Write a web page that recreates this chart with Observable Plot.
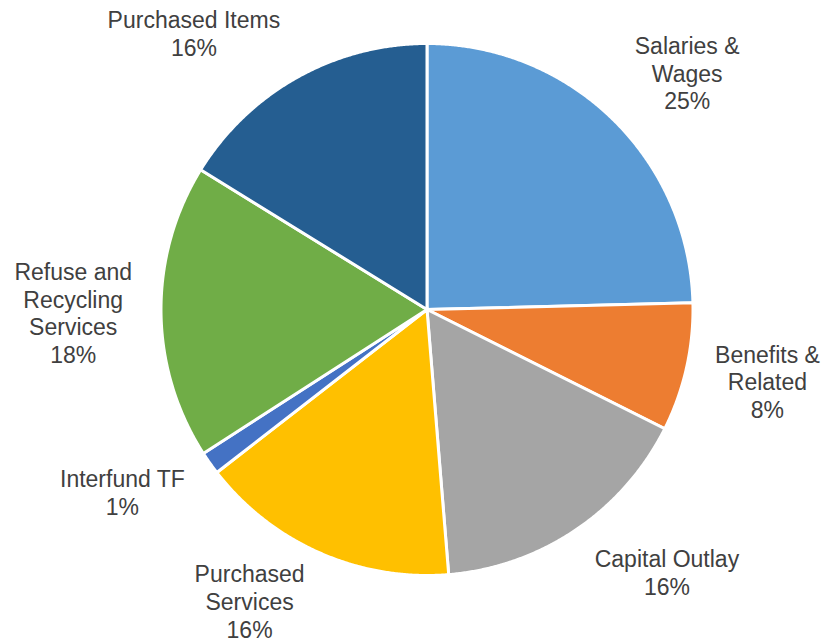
<!DOCTYPE html>
<html>
<head>
<meta charset="utf-8">
<script src="https://cdn.jsdelivr.net/npm/d3@7"></script>
<script src="https://cdn.jsdelivr.net/npm/@observablehq/plot@0.6"></script>
<style>
  html, body { margin: 0; padding: 0; background: #ffffff; }
  #chart svg { display: block; }
</style>
</head>
<body>
<div id="chart"></div>
<script>
// ---- data ----
const categories = [
  "Salaries & Wages",
  "Benefits & Related",
  "Capital Outlay",
  "Purchased Services",
  "Interfund TF",
  "Refuse and Recycling Services",
  "Purchased Items"
];
const labelText = [
  "Salaries &\nWages",
  "Benefits &\nRelated",
  "Capital Outlay",
  "Purchased\nServices",
  "Interfund TF",
  "Refuse and\nRecycling\nServices",
  "Purchased Items"
];
const shares = [24.6, 7.8, 16.3, 15.8, 1.4, 17.9, 16.2];
const colors = ["#5B9BD5", "#ED7D31", "#A5A5A5", "#FFC000", "#4472C4", "#70AD47", "#255E91"];

// ---- layout ----
const W = 822, H = 643;
const cx = 426.5, cy = 309, R = 266;
const fontSize = 23, lineHeight = 1.2;
const fontFamily = "'Liberation Sans', Arial, sans-serif";
const gap = 23, pad = 6;

const total = d3.sum(shares);
const arcs = d3.pie().sort(null).value(d => d)(shares);

// slice outlines (data coordinates: units = px, y up, origin = pie centre)
const slicePts = [];
arcs.forEach((a, i) => {
  slicePts.push({name: categories[i], x: 0, y: 0});
  const n = Math.max(2, Math.ceil((a.endAngle - a.startAngle) / 0.005));
  for (let k = 0; k <= n; k++) {
    const t = a.startAngle + (a.endAngle - a.startAngle) * k / n;
    slicePts.push({name: categories[i], x: R * Math.sin(t), y: R * Math.cos(t)});
  }
});

// label placement (outside end, kept inside the chart area like the original)
const ctx = document.createElement("canvas").getContext("2d");
ctx.font = `${fontSize}px ${fontFamily}`;
const labels = arcs.map((a, i) => {
  const text = labelText[i] + "\n" + Math.round(shares[i] / total * 100) + "%";
  const lines = text.split("\n");
  const w = d3.max(lines, l => ctx.measureText(l).width);
  const h = lines.length * fontSize * lineHeight;
  const m = (a.startAngle + a.endAngle) / 2;
  const s = Math.sin(m), c = Math.cos(m);
  const ax = (R + gap) * s, ay = (R + gap) * c;
  const x = ax + Math.sign(s) * (w / 2 + pad);
  let y = ay + c * (h / 2);
  // keep the block within the frame (y up: top = cy, bottom = -(H - cy))
  const yMin = -(H - cy) + h / 2 + 1;
  const yMax = cy - h / 2 + 4;
  y = Math.max(yMin, Math.min(yMax, y));
  return {name: categories[i], text, x, y};
});

const chart = Plot.plot({
  width: W,
  height: H,
  margin: 0,
  x: {domain: [-cx, W - cx], axis: null},
  y: {domain: [-(H - cy), cy], axis: null},
  color: {domain: categories, range: colors},
  style: {background: "#ffffff", overflow: "visible"},
  marks: [
    Plot.line(slicePts, {
      x: "x", y: "y", z: "name", fill: "name",
      stroke: "#ffffff", strokeWidth: 3, curve: "linear-closed",
      strokeLinejoin: "miter", strokeMiterlimit: 4
    }),
    Plot.text(labels, {
      x: "x", y: "y", text: "text",
      fontSize, lineHeight, fontFamily,
      fill: "#404040", textAnchor: "middle", lineAnchor: "middle"
    })
  ]
});
document.getElementById("chart").appendChild(chart);
</script>
</body>
</html>
